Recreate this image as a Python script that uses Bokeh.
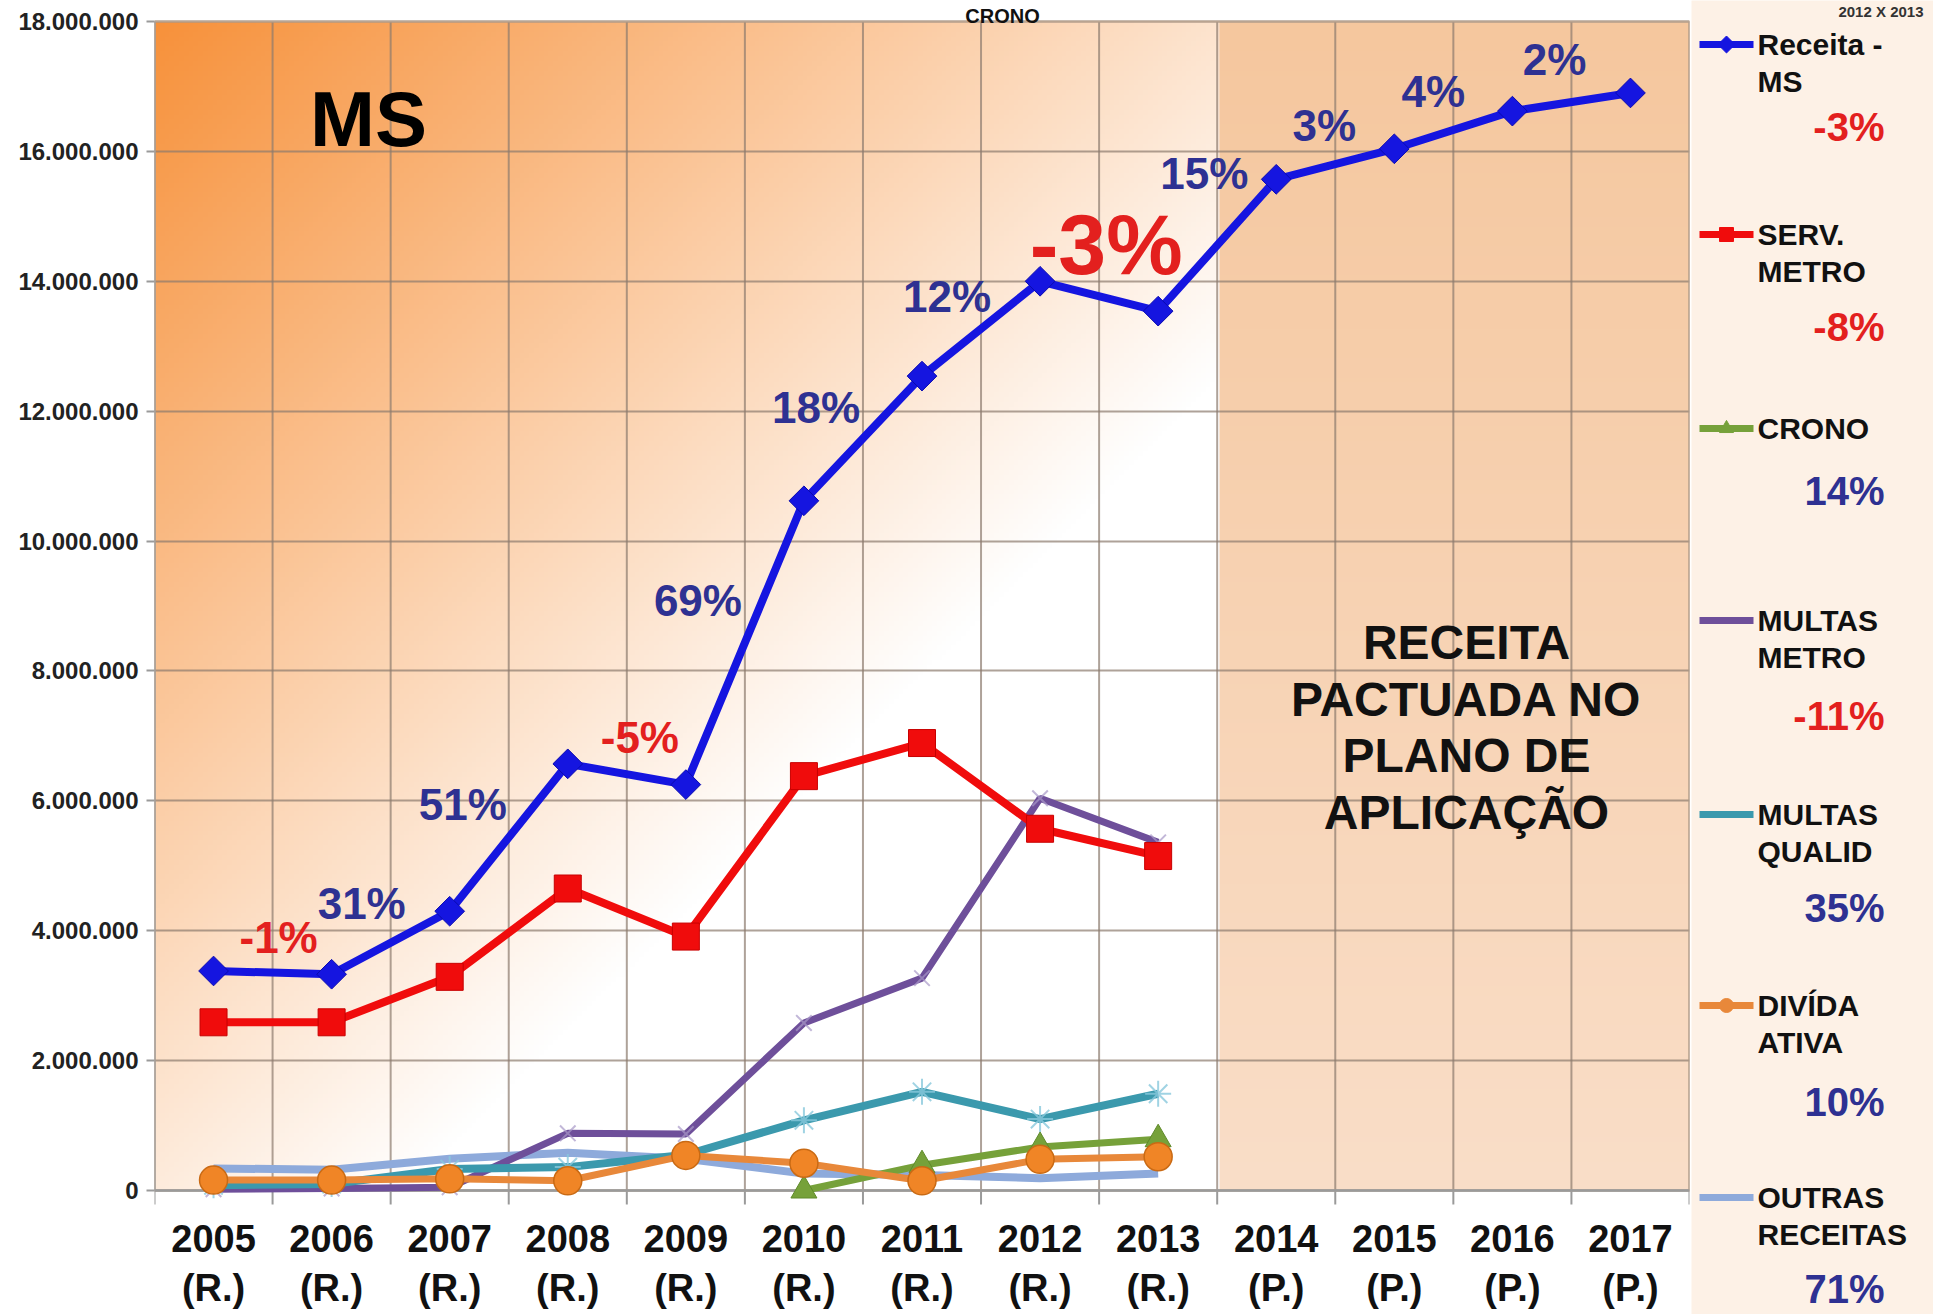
import numpy as np
from bokeh.plotting import figure
from bokeh.models import Range1d, FixedTicker, ColumnDataSource
from bokeh.layouts import row
from bokeh.embed import file_html
from bokeh.resources import INLINE
from bokeh.core.properties import value

# ---------------- data ----------------
years = [2005, 2006, 2007, 2008, 2009, 2010, 2011, 2012, 2013, 2014, 2015, 2016, 2017]
status = ["(R.)", "(R.)", "(R.)", "(R.)", "(R.)", "(R.)", "(R.)", "(R.)", "(R.)",
          "(P.)", "(P.)", "(P.)", "(P.)"]
real_years = years[:9]

receita_ms = [3.38e6, 3.33e6, 4.30e6, 6.57e6, 6.25e6, 10.62e6, 12.54e6, 14.00e6, 13.54e6,
              15.57e6, 16.04e6, 16.62e6, 16.90e6]
serv_metro = [2.59e6, 2.59e6, 3.29e6, 4.65e6, 3.91e6, 6.38e6, 6.89e6, 5.57e6, 5.15e6]
crono = [np.nan, np.nan, np.nan, np.nan, np.nan, 0.0, 0.39e6, 0.67e6, 0.79e6]
multas_metro = [0.02e6, 0.03e6, 0.05e6, 0.88e6, 0.87e6, 2.58e6, 3.27e6, 6.04e6, 5.36e6]
multas_qualid = [0.08e6, 0.10e6, 0.33e6, 0.36e6, 0.55e6, 1.08e6, 1.52e6, 1.10e6, 1.49e6]
divida_ativa = [0.16e6, 0.16e6, 0.18e6, 0.15e6, 0.54e6, 0.42e6, 0.15e6, 0.48e6, 0.52e6]
outras_receitas = [0.34e6, 0.32e6, 0.49e6, 0.58e6, 0.49e6, 0.26e6, 0.24e6, 0.19e6, 0.26e6]

growth_labels = ["-1%", "31%", "51%", "-5%", "69%", "18%", "12%", "-3%", "15%", "3%", "4%", "2%"]

y_ticks = [0, 2000000, 4000000, 6000000, 8000000, 10000000, 12000000, 14000000, 16000000, 18000000]
y_tick_labels = ["0", "2.000.000", "4.000.000", "6.000.000", "8.000.000", "10.000.000",
                 "12.000.000", "14.000.000", "16.000.000", "18.000.000"]

legend_names = ["Receita -\nMS", "SERV.\nMETRO", "CRONO", "MULTAS\nMETRO", "MULTAS\nQUALID",
                "DIVÍDA\nATIVA", "OUTRAS\nRECEITAS"]
legend_pcts = ["-3%", "-8%", "14%", "-11%", "35%", "10%", "71%"]

# ---------------- styles / layout ----------------
FONT = "Liberation Sans"
BLUE = "#1515e0"
RED = "#f00c0c"
GREEN = "#76a13a"
PURPLE = "#6e4f9a"
TEAL = "#3b99ad"
ORANGE = "#e8883a"
LIGHTBLUE = "#8eaadb"
PCT_BLUE = "#2e3192"
PCT_RED = "#e3201e"
GRID = "#8c7b6e"

H = 1314
W_MAIN = 1691
LEFT, FRAME_W = 154, 1535           # plot area in page pixels
TOP_PX, ZERO_PX = 21, 1190          # pixel rows of 18.000.000 and 0
PX_PER_CAT = FRAME_W / 13.0
Y_PER_PX = 18e6 / (ZERO_PX - TOP_PX)


def vy(px):
    """value on the y scale at page pixel row px"""
    return (ZERO_PX - px) * Y_PER_PX


def vx(px):
    return years[0] - 0.5 + (px - LEFT) / PX_PER_CAT


# pixel offsets (dx right, dy up) of each growth label from the point it refers to
label_offsets = [(-53, 37), (-88, 8), (-105, -41), (-46, 47), (-106, -100), (-106, -31),
                 (-93, -15), (-52, 67), (-72, 6), (-70, 23), (-79, 20), (-76, 33)]
label_sizes = ["44px"] * 7 + ["86px"] + ["44px"] * 4

x0, x1 = years[0] - 0.5, years[-1] + 0.5
boundaries = [y - 0.5 for y in years] + [x1]

p = figure(width=W_MAIN, height=H, output_backend="svg", toolbar_location=None,
           x_range=Range1d(x0, x1), y_range=Range1d(vy(H), vy(0)),
           min_border_left=LEFT, min_border_right=W_MAIN - LEFT - FRAME_W,
           min_border_top=0, min_border_bottom=0)
p.background_fill_color = "white"
p.border_fill_color = "white"
p.outline_line_color = None
p.xaxis.visible = False
p.xgrid.visible = False

# background gradient (styling only)
FRAME_H = ZERO_PX - TOP_PX
GH, GW = 240, 320
rows = (np.arange(GH) + 0.5) / GH
cols = (np.arange(GW) + 0.5) / GW
pxx = np.broadcast_to(cols[None, :] * FRAME_W, (GH, GW))
pxy = np.broadcast_to((1 - rows[:, None]) * FRAME_H, (GH, GW))
t = np.clip((pxx + pxy) / 1420.0, 0, 1)
orange = np.array([247, 145, 58])
white = np.array([255, 255, 255])
rgb = orange + (white - orange) * t[:, :, None]
ptop = np.array([245, 199, 158])
pbot = np.array([250, 222, 200])
prgb = ptop + (pbot - ptop) * (pxy / FRAME_H)[:, :, None]
rgb = np.where((pxx >= 9 * PX_PER_CAT)[:, :, None], prgb, rgb)
img = np.zeros((GH, GW), dtype=np.uint32)
view = img.view(dtype=np.uint8).reshape((GH, GW, 4))
view[:, :, :3] = rgb.astype(np.uint8)
view[:, :, 3] = 255
bg = p.image_rgba(image=[img], x=x0, y=0, dw=13, dh=18e6)
bg.level = "image"

# grids
p.ygrid.ticker = FixedTicker(ticks=y_ticks)
p.ygrid.grid_line_color = GRID
p.ygrid.grid_line_alpha = 0.7
p.ygrid.grid_line_width = 2
p.segment(x0=boundaries, y0=[0] * len(boundaries), x1=boundaries, y1=[18e6] * len(boundaries),
          line_color=GRID, line_alpha=0.7, line_width=2)
p.segment(x0=boundaries, y0=[vy(ZERO_PX + 14)] * len(boundaries), x1=boundaries,
          y1=[0] * len(boundaries), line_color="#9a9a9a", line_width=2)
p.quad(left=[x0], right=[x1], bottom=[0], top=[18e6], fill_color=None,
       line_color="#b9a491", line_width=2)
p.segment(x0=[x0], y0=[0], x1=[x1], y1=[0], line_color="#9a9a9a", line_width=2.5)
p.segment(x0=[x0], y0=[0], x1=[x0], y1=[18e6], line_color="#a0a0a0", line_width=2)

# y axis
p.yaxis.ticker = FixedTicker(ticks=y_ticks)
p.yaxis.major_label_overrides = dict(zip(y_ticks, y_tick_labels))
p.yaxis.major_label_text_font = FONT
p.yaxis.major_label_text_font_style = "bold"
p.yaxis.major_label_text_font_size = "24px"
p.yaxis.major_label_text_color = "#222222"
p.yaxis.axis_line_color = None
p.yaxis.major_tick_out = 8
p.yaxis.major_tick_in = 0
p.yaxis.major_tick_line_color = "#9a9a9a"
p.yaxis.major_tick_line_width = 2
p.yaxis.minor_tick_line_color = None
p.yaxis.major_label_standoff = 8

# x labels (category names), drawn under the zero line
p.text(x=years, y=[vy(1238)] * len(years), text=[str(y) for y in years],
       text_font=value(FONT), text_font_style="bold", text_font_size="38px", text_color="#111111",
       text_align="center", text_baseline="middle")
p.text(x=years, y=[vy(1287)] * len(years), text=status,
       text_font=value(FONT), text_font_style="bold", text_font_size="38px", text_color="#111111",
       text_align="center", text_baseline="middle")

# series lines (small series first)
p.line(real_years, outras_receitas, line_color=LIGHTBLUE, line_width=8)
p.line(real_years, multas_metro, line_color=PURPLE, line_width=7)
p.line(real_years, crono, line_color=GREEN, line_width=7)
p.line(real_years, multas_qualid, line_color=TEAL, line_width=8)
p.line(real_years, divida_ativa, line_color=ORANGE, line_width=7)
p.scatter(real_years, multas_metro, marker="x", size=22, line_color="#a898c8", line_alpha=0.7, line_width=2)
p.scatter(real_years, multas_qualid, marker="asterisk", size=26, line_color="#88c8dc", line_alpha=0.8, line_width=2)
p.scatter(real_years, crono, marker="triangle", size=26, fill_color=GREEN, line_color="#5f8a2a")
p.scatter(real_years, divida_ativa, marker="circle", size=28, fill_color="#f08526", line_color="#c96a14", line_width=1.5)

p.line(real_years, serv_metro, line_color=RED, line_width=8)
p.scatter(real_years, serv_metro, marker="square", size=27, fill_color=RED, line_color="#c80000")
p.line(years, receita_ms, line_color=BLUE, line_width=8)
p.scatter(years, receita_ms, marker="square", angle=np.pi / 4, size=21, fill_color=BLUE, line_color="#0a0ab0")

# growth labels on the Receita line
lx, ly, lc = [], [], []
for k, (lab, (dx, dy)) in enumerate(zip(growth_labels, label_offsets)):
    i = k + 1
    lx.append(years[i] + dx / PX_PER_CAT)
    ly.append(receita_ms[i] + dy * Y_PER_PX)
    lc.append(PCT_RED if lab.startswith("-") else PCT_BLUE)
src = ColumnDataSource(dict(x=lx, y=ly, text=growth_labels, color=lc, size=label_sizes))
p.text(x="x", y="y", text="text", source=src, text_color="color", text_font_size="size",
       text_font=value(FONT), text_font_style="bold", text_align="center", text_baseline="middle")

# annotations
p.text(x=[vx(368)], y=[vy(118)], text=["MS"],
       text_font=value(FONT), text_font_style="bold", text_font_size="78px", text_color="black",
       text_align="center", text_baseline="middle")
p.text(x=[vx(1466)], y=[vy(727)],
       text=["RECEITA\nPACTUADA NO\nPLANO DE\nAPLICAÇÃO"],
       text_font=value(FONT), text_font_style="bold", text_font_size="48px", text_color="#111111",
       text_align="center", text_baseline="middle", text_line_height=1.065)
p.text(x=[vx(1002)], y=[vy(15)], text=["CRONO"],
       text_font=value(FONT), text_font_style="bold", text_font_size="20px", text_color="#111111",
       text_align="center", text_baseline="alphabetic")

# ---------------- legend panel ----------------
W_LEG = 1933 - W_MAIN
lg = figure(width=W_LEG, height=H, output_backend="svg", toolbar_location=None,
            x_range=Range1d(0, W_LEG), y_range=Range1d(H, 0),
            min_border_left=0, min_border_right=0, min_border_top=0, min_border_bottom=0)
lg.axis.visible = False
lg.grid.visible = False
lg.outline_line_color = None
lg.background_fill_color = "#fdf1e6"
lg.border_fill_color = "white"

leg_colors = [BLUE, RED, GREEN, PURPLE, TEAL, ORANGE, LIGHTBLUE]
leg_markers = ["diamond", "square", "triangle", None, None, "circle", None]
leg_pct_colors = [PCT_RED if s.startswith("-") else PCT_BLUE for s in legend_pcts]
entry_y = [44, 234, 428, 620, 814, 1005, 1197]
pct_y = [126, 326, 490, 715, 907, 1101, 1288]

lg.text(x=[232], y=[11], text=["2012 X 2013"], text_font=value(FONT), text_font_style="bold",
        text_font_size="15px", text_color="#333333", text_align="right", text_baseline="alphabetic")

for name, col, mk, ey, pct, pc, py in zip(legend_names, leg_colors, leg_markers, entry_y,
                                          legend_pcts, leg_pct_colors, pct_y):
    lg.line([8, 62], [ey, ey], line_color=col, line_width=7)
    if mk == "diamond":
        lg.scatter([35], [ey], marker="square", angle=np.pi / 4, size=12, fill_color=col, line_color=col)
    elif mk is not None:
        lg.scatter([35], [ey], marker=mk, size=14, fill_color=col, line_color=col)
    for j, ln in enumerate(name.split("\n")):
        lg.text(x=[66], y=[ey + 37 * j], text=[ln], text_font=value(FONT), text_font_style="bold",
                text_font_size="30px", text_color="#111111", text_align="left", text_baseline="middle")
    lg.text(x=[193], y=[py], text=[pct], text_font=value(FONT), text_font_style="bold",
            text_font_size="40px", text_color=pc, text_align="right", text_baseline="middle")

layout = row(p, lg, spacing=0)
open("out.html", "w").write(file_html(layout, INLINE))
